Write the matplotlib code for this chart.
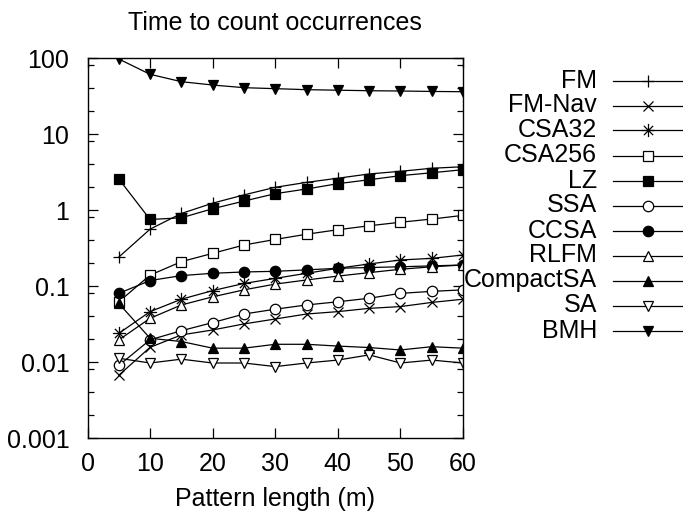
import numpy as np
import matplotlib
matplotlib.use("Agg")
import matplotlib.pyplot as plt
from matplotlib.path import Path
from matplotlib.lines import Line2D
from matplotlib.ticker import LogLocator, NullFormatter, FixedLocator

plt.rcParams['font.family'] = ['Liberation Sans', 'DejaVu Sans']

m = [5, 10, 15, 20, 25, 30, 35, 40, 45, 50, 55, 60]

fm        = [0.24, 0.56, 0.90, 1.23, 1.58, 1.99, 2.31, 2.62, 2.98, 3.23, 3.54, 3.71]
fm_nav    = [0.0067, 0.0156, 0.0227, 0.0264, 0.0317, 0.0368, 0.0428, 0.046, 0.0508, 0.0536, 0.0608, 0.067]
csa32     = [0.0238, 0.046, 0.067, 0.087, 0.108, 0.126, 0.147, 0.171, 0.195, 0.22, 0.231, 0.256]
csa256    = [0.062, 0.139, 0.209, 0.269, 0.346, 0.41, 0.48, 0.55, 0.62, 0.69, 0.76, 0.85]
lz        = [2.56, 0.75, 0.79, 1.04, 1.31, 1.64, 1.89, 2.22, 2.5, 2.83, 3.09, 3.39]
ssa       = [0.009, 0.0196, 0.0258, 0.033, 0.0428, 0.0495, 0.0563, 0.062, 0.069, 0.08, 0.085, 0.089]
ccsa      = [0.080, 0.118, 0.137, 0.147, 0.153, 0.156, 0.163, 0.171, 0.175, 0.179, 0.184, 0.189]
rlfm      = [0.0195, 0.0376, 0.0563, 0.072, 0.089, 0.106, 0.12, 0.135, 0.15, 0.166, 0.179, 0.189]
compactsa = [0.059, 0.0205, 0.0186, 0.0152, 0.0152, 0.0171, 0.0171, 0.0162, 0.0155, 0.0144, 0.0159, 0.0152]
sa        = [0.0112, 0.0097, 0.0109, 0.0097, 0.0097, 0.0087, 0.0097, 0.0106, 0.0124, 0.0097, 0.0106, 0.0097]
bmh       = [97, 61, 48.8, 44.1, 40.7, 39.5, 38.3, 37.7, 37.1, 36.8, 36.3, 36.0]

labels = ["FM", "FM-Nav", "CSA32", "CSA256", "LZ", "SSA", "CCSA", "RLFM",
          "CompactSA", "SA", "BMH"]
series = [fm, fm_nav, csa32, csa256, lz, ssa, ccsa, rlfm, compactsa, sa, bmh]

# gnuplot-like asterisk: plus overlaid with x
ast_path = Path(
    [(-1, 0), (1, 0), (0, -1), (0, 1), (-0.7, -0.7), (0.7, 0.7), (-0.7, 0.7), (0.7, -0.7)],
    [Path.MOVETO, Path.LINETO] * 4)

styles = [
    dict(marker='+', ms=8, mfc='none'),
    dict(marker='x', ms=7.5, mfc='none'),
    dict(marker=ast_path, ms=9.5, mfc='none'),
    dict(marker='s', ms=7.5, mfc='white'),
    dict(marker='s', ms=7.5, mfc='black'),
    dict(marker='o', ms=7.5, mfc='white'),
    dict(marker='o', ms=7.5, mfc='black'),
    dict(marker='^', ms=7.5, mfc='white'),
    dict(marker='^', ms=7.5, mfc='black'),
    dict(marker='v', ms=7.5, mfc='white'),
    dict(marker='v', ms=7.5, mfc='black'),
]

FS = 18
W, H = 683, 515
fig = plt.figure(figsize=(W / 100, H / 100), dpi=100)
ax = fig.add_axes([87.5 / W, 1 - 438 / H, (463 - 87.5) / W, (438 - 58) / H])

for vals, st in zip(series, styles):
    ax.plot(m, vals, color='black', lw=0.9, mec='black', mew=0.9, **st)

ax.set_yscale('log')
ax.set_xlim(0, 60)
ax.set_ylim(0.001, 100)
ax.set_xticks([0, 10, 20, 30, 40, 50, 60])
ax.yaxis.set_major_locator(FixedLocator([0.001, 0.01, 0.1, 1, 10, 100]))
ax.set_yticklabels(["0.001", "0.01", "0.1", "1", "10", "100"])
ax.yaxis.set_minor_locator(LogLocator(base=10, subs=(2, 4, 8)))
ax.yaxis.set_minor_formatter(NullFormatter())
ax.tick_params(which='both', direction='in', top=True, right=True, labelsize=FS, width=0.9)
ax.tick_params(axis='y', which='major', length=7, pad=13)
ax.tick_params(axis='x', which='major', length=7, pad=10)
ax.tick_params(which='minor', length=4)
for s in ax.spines.values():
    s.set_linewidth(1.0)

ax.set_title("Time to count occurrences", fontsize=FS, pad=20)
ax.set_xlabel("Pattern length (m)", fontsize=FS, labelpad=8)

# manual gnuplot-style key on the right
for i, (lab, st) in enumerate(zip(labels, styles)):
    ypx = 80.5 + 25.0 * i
    yf = 1 - ypx / H
    fig.text(597 / W, yf, lab, ha='right', va='center', fontsize=FS)
    fig.add_artist(Line2D([613 / W, 683 / W], [yf, yf], color='black', lw=0.9,
                          transform=fig.transFigure))
    fig.add_artist(Line2D([648 / W], [yf], color='black', lw=0, mec='black', mew=0.9,
                          transform=fig.transFigure, **st))

fig.savefig("out.png", dpi=100)
